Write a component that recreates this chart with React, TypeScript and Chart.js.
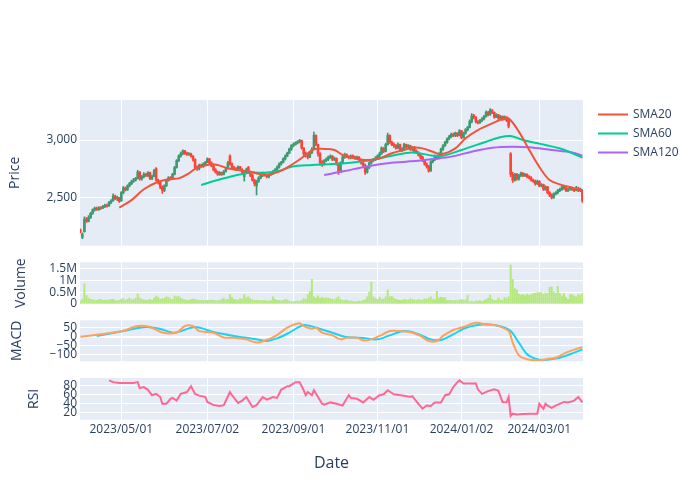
import React, { useEffect, useRef } from "react";
import { Chart, registerables } from "chart.js";

Chart.register(...registerables);

const FONT = "'Open Sans', verdana, arial, sans-serif";
const TEXT = "#2a3f5f";

// ---- x axis (trading-day index) ----
const dateTickIdx = [20, 62, 104, 145, 186, 224];
const dateTickLabels = ["2023/05/01", "2023/07/02", "2023/09/01", "2023/11/01", "2024/01/02", "2024/03/01"];

// ---- OHLC ----
const open = [
  2215, 2150, 2200, 2310, 2290, 2320, 2360, 2390, 2400, 2395,
  2410, 2405, 2420, 2430, 2425, 2455, 2470, 2510, 2490, 2495,
  2470, 2540, 2580, 2565, 2600, 2620, 2640, 2650, 2665, 2720,
  2660, 2680, 2700, 2690, 2715, 2665, 2685, 2750, 2650, 2630,
  2590, 2560, 2600, 2650, 2670, 2660, 2700, 2760, 2820, 2860,
  2880, 2905, 2885, 2875, 2880, 2860, 2830, 2760, 2750, 2780,
  2770, 2790, 2805, 2835, 2800, 2775, 2740, 2720, 2700, 2715,
  2700, 2725, 2750, 2860, 2790, 2760, 2750, 2745, 2765, 2740,
  2680, 2720, 2760, 2720, 2690, 2650, 2600, 2640, 2670, 2690,
  2710, 2695, 2680, 2695, 2710, 2725, 2740, 2760, 2790, 2805,
  2835, 2860, 2885, 2920, 2950, 2960, 2975, 2985, 2995, 2930,
  2880, 2870, 2850, 2890, 2920, 3040, 2960, 2880, 2800, 2790,
  2820, 2830, 2850, 2860, 2830, 2840, 2790, 2720, 2800, 2850,
  2870, 2855, 2845, 2860, 2850, 2840, 2850, 2830, 2800, 2780,
  2720, 2760, 2800, 2820, 2830, 2840, 2860, 2880, 2930, 2900,
  2960, 3040, 2980, 2960, 2950, 2930, 2960, 2910, 2920, 2960,
  2940, 2950, 2920, 2935, 2900, 2890, 2870, 2850, 2820, 2790,
  2770, 2730, 2810, 2830, 2860, 2840, 2880, 2920, 2950, 2980,
  3010, 3030, 3050, 3040, 3060, 3040, 3080, 3020, 3060, 3090,
  3110, 3160, 3210, 3200, 3160, 3150, 3170, 3185, 3205, 3240,
  3220, 3260, 3240, 3200, 3220, 3190, 3205, 3180, 3200, 3170,
  2880, 2700, 2650, 2700, 2660, 2690, 2710, 2690, 2700, 2680,
  2670, 2650, 2640, 2620, 2640, 2600, 2610, 2570, 2590, 2540,
  2520, 2500, 2530, 2540, 2560, 2570, 2590, 2580, 2560, 2570,
  2580, 2570, 2560, 2580, 2560, 2560,
];
const high = [
  2225, 2190, 2330, 2325, 2340, 2370, 2400, 2415, 2415, 2420,
  2420, 2430, 2440, 2440, 2465, 2480, 2530, 2520, 2510, 2500,
  2550, 2595, 2590, 2610, 2630, 2650, 2665, 2675, 2735, 2725,
  2690, 2715, 2710, 2725, 2720, 2695, 2745, 2760, 2660, 2640,
  2600, 2610, 2660, 2680, 2680, 2710, 2770, 2830, 2870, 2895,
  2915, 2910, 2895, 2890, 2885, 2865, 2835, 2775, 2790, 2790,
  2800, 2815, 2845, 2840, 2810, 2780, 2750, 2730, 2725, 2720,
  2735, 2760, 2815, 2870, 2800, 2770, 2760, 2775, 2770, 2750,
  2730, 2755, 2770, 2730, 2700, 2660, 2650, 2680, 2700, 2720,
  2715, 2700, 2705, 2720, 2735, 2750, 2775, 2800, 2815, 2845,
  2870, 2895, 2930, 2960, 2975, 2985, 2995, 3005, 3000, 2935,
  2895, 2880, 2900, 2935, 3070, 3045, 2965, 2890, 2820, 2830,
  2845, 2860, 2870, 2865, 2850, 2845, 2800, 2810, 2860, 2885,
  2880, 2865, 2870, 2870, 2860, 2860, 2855, 2835, 2810, 2790,
  2770, 2810, 2830, 2840, 2855, 2870, 2895, 2940, 2935, 2970,
  3060, 3045, 2990, 2975, 2960, 2975, 2965, 2935, 2970, 2965,
  2960, 2955, 2945, 2945, 2915, 2900, 2880, 2860, 2830, 2800,
  2780, 2820, 2840, 2870, 2865, 2890, 2930, 2960, 2990, 3020,
  3040, 3060, 3060, 3070, 3065, 3090, 3085, 3070, 3100, 3120,
  3175, 3230, 3225, 3205, 3170, 3180, 3195, 3215, 3255, 3250,
  3275, 3265, 3245, 3230, 3225, 3215, 3210, 3210, 3205, 3180,
  2890, 2720, 2710, 2710, 2700, 2720, 2715, 2710, 2705, 2690,
  2680, 2660, 2650, 2650, 2645, 2620, 2615, 2600, 2595, 2550,
  2530, 2540, 2550, 2570, 2580, 2600, 2600, 2590, 2580, 2590,
  2590, 2580, 2595, 2590, 2580, 2565,
];
const low = [
  2190, 2140, 2195, 2280, 2285, 2315, 2350, 2380, 2385, 2385,
  2395, 2400, 2410, 2415, 2420, 2445, 2465, 2480, 2470, 2455,
  2465, 2530, 2555, 2560, 2590, 2610, 2630, 2640, 2660, 2650,
  2650, 2670, 2680, 2680, 2655, 2655, 2680, 2640, 2615, 2575,
  2535, 2550, 2595, 2640, 2650, 2655, 2695, 2755, 2810, 2850,
  2870, 2875, 2865, 2865, 2850, 2815, 2745, 2735, 2740, 2760,
  2760, 2780, 2800, 2790, 2765, 2730, 2710, 2690, 2690, 2690,
  2695, 2720, 2745, 2780, 2750, 2740, 2735, 2740, 2730, 2710,
  2640, 2710, 2710, 2680, 2640, 2600, 2520, 2630, 2660, 2680,
  2685, 2670, 2670, 2690, 2700, 2715, 2735, 2755, 2780, 2800,
  2825, 2855, 2880, 2910, 2940, 2955, 2965, 2975, 2920, 2860,
  2850, 2835, 2845, 2880, 2915, 2950, 2860, 2780, 2770, 2780,
  2810, 2820, 2840, 2820, 2820, 2780, 2700, 2715, 2795, 2840,
  2845, 2835, 2835, 2840, 2830, 2830, 2820, 2790, 2765, 2700,
  2710, 2750, 2790, 2810, 2820, 2830, 2850, 2875, 2890, 2895,
  2955, 2970, 2950, 2935, 2920, 2925, 2900, 2900, 2915, 2930,
  2930, 2910, 2905, 2890, 2880, 2860, 2835, 2810, 2780, 2755,
  2720, 2725, 2800, 2820, 2830, 2835, 2875, 2910, 2945, 2970,
  3000, 3020, 3030, 3030, 3030, 3035, 3010, 3015, 3050, 3080,
  3105, 3150, 3185, 3150, 3140, 3145, 3160, 3175, 3200, 3210,
  3215, 3230, 3190, 3195, 3180, 3185, 3170, 3175, 3160, 3105,
  2680, 2630, 2640, 2650, 2650, 2680, 2680, 2680, 2670, 2660,
  2640, 2630, 2605, 2610, 2590, 2590, 2560, 2560, 2530, 2505,
  2485, 2490, 2520, 2530, 2550, 2560, 2570, 2550, 2550, 2560,
  2560, 2550, 2555, 2550, 2550, 2455,
];
const close = [
  2200, 2180, 2310, 2290, 2320, 2360, 2390, 2405, 2395, 2410,
  2405, 2420, 2430, 2425, 2455, 2470, 2510, 2490, 2500, 2465,
  2540, 2580, 2565, 2600, 2620, 2640, 2650, 2665, 2720, 2660,
  2680, 2700, 2690, 2715, 2665, 2685, 2730, 2650, 2630, 2590,
  2560, 2600, 2650, 2670, 2660, 2700, 2760, 2820, 2860, 2880,
  2905, 2885, 2875, 2880, 2860, 2830, 2760, 2750, 2780, 2770,
  2790, 2805, 2835, 2800, 2775, 2740, 2720, 2700, 2715, 2700,
  2725, 2750, 2800, 2790, 2760, 2750, 2745, 2765, 2740, 2720,
  2720, 2740, 2720, 2690, 2650, 2620, 2640, 2670, 2690, 2710,
  2695, 2680, 2695, 2710, 2725, 2740, 2760, 2790, 2805, 2835,
  2860, 2885, 2920, 2950, 2960, 2975, 2985, 2995, 2930, 2880,
  2870, 2850, 2890, 2920, 3040, 2960, 2880, 2800, 2790, 2820,
  2830, 2850, 2860, 2830, 2840, 2790, 2720, 2800, 2850, 2870,
  2855, 2845, 2860, 2850, 2840, 2850, 2830, 2800, 2780, 2720,
  2760, 2800, 2820, 2830, 2840, 2860, 2880, 2930, 2900, 2960,
  3040, 2980, 2960, 2950, 2930, 2960, 2910, 2920, 2960, 2940,
  2950, 2920, 2935, 2900, 2890, 2870, 2850, 2820, 2790, 2770,
  2730, 2810, 2830, 2860, 2840, 2880, 2920, 2950, 2980, 3010,
  3030, 3050, 3040, 3060, 3040, 3080, 3020, 3060, 3090, 3110,
  3160, 3210, 3200, 3160, 3150, 3170, 3185, 3205, 3240, 3220,
  3260, 3240, 3200, 3220, 3190, 3205, 3180, 3200, 3170, 3120,
  2700, 2650, 2700, 2660, 2690, 2710, 2690, 2700, 2680, 2670,
  2650, 2640, 2620, 2640, 2600, 2610, 2570, 2590, 2540, 2520,
  2500, 2530, 2540, 2560, 2570, 2590, 2580, 2560, 2570, 2580,
  2570, 2560, 2580, 2560, 2570, 2470,
];

// ---- Volume ----
const volume = [
  120000, 200000, 860000, 360000, 250000, 200000, 190000, 170000, 160000, 190000,
  200000, 150000, 170000, 160000, 180000, 190000, 200000, 150000, 130000, 160000,
  210000, 230000, 160000, 200000, 250000, 180000, 190000, 240000, 430000, 260000,
  200000, 180000, 150000, 170000, 200000, 160000, 250000, 330000, 280000, 200000,
  220000, 240000, 300000, 280000, 220000, 190000, 330000, 300000, 330000, 250000,
  200000, 180000, 160000, 150000, 190000, 210000, 200000, 170000, 160000, 150000,
  160000, 140000, 150000, 160000, 170000, 150000, 140000, 140000, 150000, 200000,
  260000, 180000, 200000, 400000, 280000, 200000, 180000, 170000, 230000, 210000,
  400000, 260000, 300000, 220000, 180000, 150000, 160000, 150000, 130000, 140000,
  160000, 130000, 120000, 150000, 300000, 200000, 160000, 150000, 130000, 150000,
  200000, 180000, 120000, 100000, 90000, 110000, 130000, 100000, 150000, 240000,
  200000, 400000, 520000, 1040000, 300000, 250000, 350000, 250000, 280000, 240000,
  260000, 250000, 220000, 200000, 180000, 250000, 300000, 200000, 160000, 150000,
  170000, 120000, 130000, 100000, 90000, 100000, 120000, 100000, 150000, 180000,
  300000, 500000, 930000, 300000, 250000, 200000, 280000, 200000, 220000, 300000,
  600000, 300000, 320000, 250000, 200000, 180000, 150000, 160000, 200000, 180000,
  170000, 220000, 200000, 180000, 160000, 200000, 170000, 180000, 220000, 200000,
  250000, 300000, 200000, 180000, 530000, 250000, 280000, 260000, 270000, 150000,
  160000, 150000, 130000, 160000, 140000, 170000, 200000, 160000, 180000, 360000,
  100000, 120000, 80000, 130000, 120000, 140000, 100000, 150000, 200000, 250000,
  380000, 200000, 150000, 160000, 260000, 180000, 170000, 280000, 220000, 300000,
  1640000, 1040000, 650000, 600000, 420000, 380000, 400000, 360000, 420000, 380000,
  400000, 450000, 460000, 470000, 480000, 480000, 400000, 470000, 450000, 700000,
  720000, 500000, 450000, 750000, 450000, 350000, 450000, 280000, 200000, 400000,
  400000, 350000, 300000, 400000, 380000, 450000,
];

// ---- Moving averages ----
const sma20Idx = [19, 25, 31, 38, 44, 48, 53, 57, 64, 67, 72, 77, 83, 90, 97, 103, 110, 114, 119, 124, 128, 134, 139, 145, 152, 158, 163, 167, 172, 176, 183, 188, 194, 201, 206, 209, 214, 220, 225, 229, 234, 240, 245];
const sma20 = [2410, 2476, 2570, 2636, 2660, 2665, 2709, 2759, 2788, 2782, 2753, 2738, 2724, 2695, 2724, 2782, 2869, 2919, 2922, 2913, 2869, 2840, 2825, 2834, 2884, 2913, 2935, 2927, 2898, 2875, 2927, 3015, 3087, 3145, 3183, 3189, 3073, 2884, 2738, 2651, 2613, 2584, 2564];
const sma60Idx = [59, 67, 75, 83, 90, 97, 103, 113, 123, 132, 142, 152, 162, 172, 177, 186, 198, 204, 210, 216, 227, 235, 245];
const sma60 = [2607, 2651, 2689, 2715, 2715, 2729, 2767, 2782, 2790, 2802, 2825, 2863, 2892, 2863, 2863, 2913, 2985, 3020, 3035, 3000, 2956, 2921, 2846];
const sma120Idx = [119, 129, 139, 149, 159, 166, 172, 181, 191, 201, 211, 219, 230, 240, 245];
const sma120 = [2695, 2729, 2767, 2796, 2811, 2822, 2834, 2855, 2898, 2933, 2942, 2936, 2913, 2892, 2863];

// ---- MACD ----
const macdIdx = [0, 10, 21, 28, 34, 40, 47, 51, 55, 58, 65, 70, 75, 81, 86, 91, 96, 101, 107, 109, 113, 115, 118, 123, 127, 130, 135, 138, 141, 146, 151, 156, 161, 166, 170, 174, 177, 182, 187, 193, 198, 203, 209, 211, 214, 218, 223, 229, 232, 237, 245];
const macd = [0, 13, 33, 59, 54, 23, 23, 59, 59, 31, 22, -5, -6, -15, -33, -18, 9, 50, 74, 59, 44, 50, 22, 7, -15, -6, -6, -20, -18, 4, 31, 31, 26, 4, -24, -24, 4, 37, 54, 77, 68, 63, 31, -33, -104, -126, -131, -122, -117, -89, -57];
const signalIdx = [8, 21, 32, 39, 46, 56, 65, 75, 84, 91, 97, 102, 109, 115, 122, 129, 137, 145, 151, 158, 164, 171, 176, 182, 187, 193, 200, 206, 210, 214, 218, 222, 226, 232, 239, 245];
const signal = [4, 31, 54, 43, 22, 54, 26, 4, -11, -24, -5, 22, 65, 50, 26, 0, -6, -15, 7, 31, 18, -15, -18, 13, 44, 63, 68, 54, 31, -33, -98, -122, -130, -122, -98, -70];

// ---- RSI ----
const rsiIdx = [14, 16, 19, 26, 28, 29, 31, 33, 35, 37, 39, 40, 42, 44, 45, 47, 49, 52, 54, 56, 58, 61, 62, 65, 68, 70, 73, 74, 77, 79, 81, 84, 86, 89, 91, 94, 96, 98, 101, 102, 105, 107, 109, 110, 111, 113, 114, 116, 118, 119, 122, 125, 128, 129, 131, 132, 135, 138, 141, 143, 146, 148, 150, 153, 158, 161, 162, 165, 167, 169, 171, 173, 176, 178, 180, 182, 184, 185, 187, 193, 194, 196, 199, 202, 204, 206, 208, 209, 210, 211, 213, 216, 219, 223, 224, 226, 227, 228, 230, 232, 236, 238, 241, 243, 245];
const rsi = [91, 87, 85, 85, 87, 74, 76, 70, 58, 61, 54, 39, 39, 50, 52, 46, 61, 65, 78, 61, 57, 54, 43, 36, 34, 36, 65, 58, 41, 46, 54, 32, 36, 54, 48, 54, 52, 70, 78, 78, 87, 87, 69, 58, 65, 58, 69, 54, 39, 37, 42, 39, 35, 43, 58, 52, 50, 42, 54, 48, 58, 60, 69, 60, 57, 54, 56, 39, 28, 35, 34, 42, 42, 58, 60, 76, 87, 91, 84, 84, 71, 61, 67, 71, 68, 43, 42, 54, 12, 17, 15, 16, 17, 17, 39, 28, 39, 35, 30, 35, 43, 42, 46, 54, 42];

// ---- axis tick values ----
const priceTicks = [2500, 3000];
const volumeTicks = [0, 500000, 1000000, 1500000];
const macdTicks = [-100, -50, 0, 50];
const rsiTicks = [20, 40, 60, 80];

const INC = "#3D9970";
const DEC = "#FF4136";

const pts = (xs: number[], ys: number[]) => xs.map((x, i) => ({ x, y: ys[i] }));
const fixTicks = (vals: number[]) => (scale: any) => {
  scale.ticks = vals.map((v) => ({ value: v }));
};

function leftAxis(weight: number, min: number, max: number, vals: number[] | null, fmt?: (v: number) => string, zeroWide = false) {
  const gap = vals === null;
  return {
    type: "linear",
    position: "left",
    stack: "panels",
    stackWeight: weight,
    min,
    max,
    afterFit: (s: any) => {
      s.width = 72;
    },
    afterBuildTicks: gap ? undefined : fixTicks(vals as number[]),
    border: { display: false },
    grid: {
      display: !gap,
      color: "#ffffff",
      lineWidth: (c: any) => (zeroWide && c.tick && c.tick.value === 0 ? 2 : 1),
      drawTicks: false,
    },
    ticks: {
      display: !gap,
      autoSkip: false,
      color: TEXT,
      font: { size: 12, family: FONT },
      padding: 3,
      callback: fmt ? (v: any) => fmt(Number(v)) : undefined,
    },
  };
}

const minus = (v: number) => (v < 0 ? "\u2212" + Math.abs(v) : String(v));

export default function App() {
  const canvasRef = useRef<HTMLCanvasElement | null>(null);

  useEffect(() => {
    const canvas = canvasRef.current;
    if (!canvas) return;
    const idx = close.map((_, i) => i);
    const colors = idx.map((i) => (close[i] >= open[i] ? INC : DEC));

    const panelIds = ["yPrice", "yVol", "yMacd", "yRsi"];
    const panelTitles: { id: string; text: string; x: number }[] = [
      { id: "yPrice", text: "Price", x: 15 },
      { id: "yVol", text: "Volume", x: 21 },
      { id: "yMacd", text: "MACD", x: 17 },
      { id: "yRsi", text: "RSI", x: 34 },
    ];

    const panelPlugin = {
      id: "panels",
      beforeDraw(chart: any) {
        const { ctx, chartArea } = chart;
        ctx.save();
        ctx.fillStyle = "#E5ECF6";
        for (const id of panelIds) {
          const s = chart.scales[id];
          ctx.fillRect(chartArea.left, s.top, chartArea.right - chartArea.left, s.bottom - s.top);
        }
        ctx.restore();
      },
      afterDraw(chart: any) {
        const { ctx, chartArea } = chart;
        ctx.save();
        ctx.fillStyle = TEXT;
        ctx.font = `14px ${FONT}`;
        ctx.textAlign = "center";
        ctx.textBaseline = "middle";
        for (const t of panelTitles) {
          const s = chart.scales[t.id];
          ctx.save();
          ctx.translate(t.x, (s.top + s.bottom) / 2);
          ctx.rotate(-Math.PI / 2);
          ctx.fillText(t.text, 0, 0);
          ctx.restore();
        }
        ctx.font = `16px ${FONT}`;
        ctx.fillText("Date", (chartArea.left + chartArea.right) / 2, 463);
        // legend
        const items = chart.data.datasets.filter((d: any) => d.inLegend);
        ctx.font = `12px ${FONT}`;
        ctx.textAlign = "left";
        items.forEach((d: any, k: number) => {
          const y = 114.5 + k * 19;
          ctx.strokeStyle = d.borderColor;
          ctx.lineWidth = 2;
          ctx.beginPath();
          ctx.moveTo(598, y);
          ctx.lineTo(628, y);
          ctx.stroke();
          ctx.fillStyle = TEXT;
          ctx.fillText(d.label, 633, y);
        });
        ctx.restore();
      },
    };

    const lineDs = (label: string, data: any[], color: string, axis: string, inLegend: boolean, tension = 0.35) => ({
      type: "line",
      label,
      data,
      yAxisID: axis,
      borderColor: color,
      backgroundColor: color,
      borderWidth: 2,
      pointRadius: 0,
      tension,
      inLegend,
      order: 0,
    });

    const chart = new Chart(canvas, {
      type: "bar",
      data: {
        datasets: [
          lineDs("SMA20", pts(sma20Idx, sma20), "#EF553B", "yPrice", true),
          lineDs("SMA60", pts(sma60Idx, sma60), "#00cc96", "yPrice", true),
          lineDs("SMA120", pts(sma120Idx, sma120), "#ab63fa", "yPrice", true),
          lineDs("MACD", pts(macdIdx, macd), "#FFA15A", "yMacd", false, 0.3),
          lineDs("Signal", pts(signalIdx, signal), "#19d3f3", "yMacd", false, 0.3),
          lineDs("RSI", pts(rsiIdx, rsi), "#FF6692", "yRsi", false, 0),
          {
            type: "bar",
            label: "wick",
            data: idx.map((i) => ({ x: i, y: [low[i], high[i]] })),
            yAxisID: "yPrice",
            backgroundColor: colors,
            borderWidth: 0,
            barThickness: 1,
            grouped: false,
            order: 2,
          },
          {
            type: "bar",
            label: "body",
            data: idx.map((i) => ({ x: i, y: [Math.min(open[i], close[i]), Math.max(open[i], close[i]) + 0.5] })),
            yAxisID: "yPrice",
            backgroundColor: colors,
            borderWidth: 0,
            barThickness: 1.9,
            grouped: false,
            order: 1,
          },
          {
            type: "bar",
            label: "Volume",
            data: idx.map((i) => ({ x: i, y: volume[i] })),
            yAxisID: "yVol",
            backgroundColor: "#B6E880",
            borderWidth: 0,
            barThickness: 1.4,
            grouped: false,
            order: 1,
          },
        ] as any,
      },
      options: {
        responsive: false,
        animation: false,
        devicePixelRatio: 1,
        events: [],
        layout: { padding: { left: 8, top: 100, right: 117, bottom: 0 } },
        plugins: { legend: { display: false }, tooltip: { enabled: false } },
        scales: {
          x: {
            type: "linear",
            position: "bottom",
            min: -0.16,
            max: 245.3,
            offset: false,
            afterFit: (s: any) => {
              s.height = 80.3;
            },
            afterBuildTicks: fixTicks(dateTickIdx),
            border: { display: false },
            grid: { color: "#ffffff", lineWidth: 1, drawTicks: false, offset: false },
            ticks: {
              autoSkip: false,
              maxRotation: 0,
              color: TEXT,
              font: { size: 12, family: FONT },
              padding: 3,
              callback: (v: any) => dateTickLabels[dateTickIdx.indexOf(Number(v))] ?? "",
            },
          },
          yRsi: leftAxis(41.7, 3.6, 96.2, rsiTicks),
          gap3: leftAxis(16.7, 0, 1, null),
          yMacd: leftAxis(41, -137, 91, macdTicks, minus, true),
          gap2: leftAxis(16.3, 0, 1, null),
          yVol: leftAxis(41.7, 0, 1760000, volumeTicks, (v) => (v === 0 ? "0" : v / 1e6 + "M")),
          gap1: leftAxis(16.6, 0, 1, null),
          yPrice: leftAxis(145.7, 2078, 3349, priceTicks, (v) => v.toLocaleString("en-US")),
        } as any,
      },
      plugins: [panelPlugin],
    } as any);

    return () => chart.destroy();
  }, []);

  return (
    <div style={{ position: "absolute", left: 0, top: 0, width: 700, height: 500, background: "#ffffff" }}>
      <canvas ref={canvasRef} width={700} height={500} style={{ width: 700, height: 500, display: "block" }} />
    </div>
  );
}
